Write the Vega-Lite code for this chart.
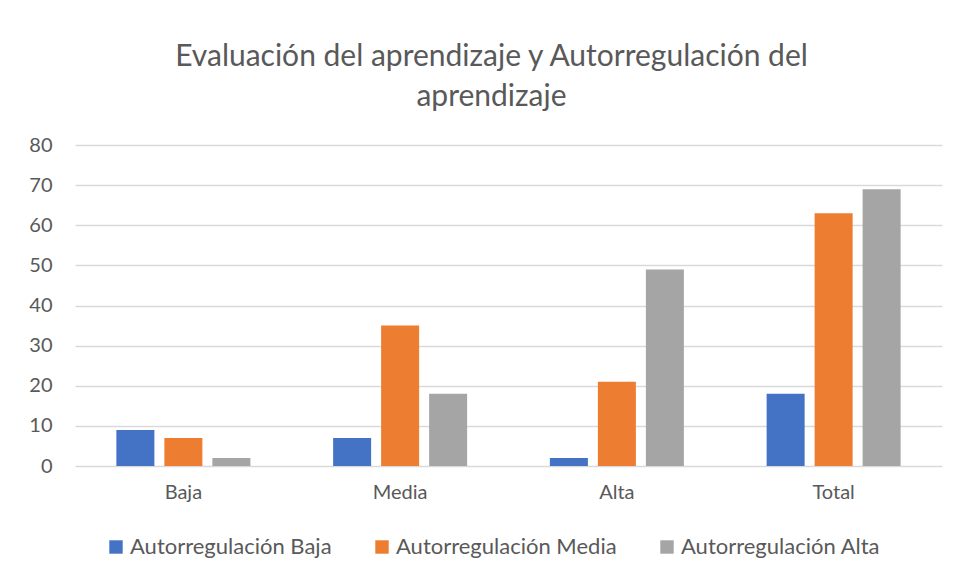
{
  "$schema": "https://vega.github.io/schema/vega-lite/v6.json",
  "width": 867,
  "height": 321,
  "autosize": "none",
  "padding": {"left": 75, "top": 145, "right": 14, "bottom": 115},
  "background": "white",
  "title": {
    "text": ["Evaluación del aprendizaje y Autorregulación del", "aprendizaje"],
    "font": "Lato",
    "fontSize": 30,
    "fontWeight": "normal",
    "color": "#595959",
    "lineHeight": 40,
    "anchor": "middle",
    "dx": -17,
    "offset": 23
  },
  "data": {
    "values": [
      {"grupo": "Baja", "serie": "Autorregulación Baja", "valor": 9},
      {"grupo": "Baja", "serie": "Autorregulación Media", "valor": 7},
      {"grupo": "Baja", "serie": "Autorregulación Alta", "valor": 2},
      {"grupo": "Media", "serie": "Autorregulación Baja", "valor": 7},
      {"grupo": "Media", "serie": "Autorregulación Media", "valor": 35},
      {"grupo": "Media", "serie": "Autorregulación Alta", "valor": 18},
      {"grupo": "Alta", "serie": "Autorregulación Baja", "valor": 2},
      {"grupo": "Alta", "serie": "Autorregulación Media", "valor": 21},
      {"grupo": "Alta", "serie": "Autorregulación Alta", "valor": 49},
      {"grupo": "Total", "serie": "Autorregulación Baja", "valor": 18},
      {"grupo": "Total", "serie": "Autorregulación Media", "valor": 63},
      {"grupo": "Total", "serie": "Autorregulación Alta", "valor": 69}
    ]
  },
  "mark": {"type": "bar"},
  "encoding": {
    "x": {
      "field": "grupo",
      "type": "nominal",
      "sort": ["Baja", "Media", "Alta", "Total"],
      "scale": {"paddingInner": 0, "paddingOuter": 0},
      "axis": {
        "title": null,
        "labelAngle": 0,
        "labelFont": "Lato",
        "labelFontSize": 20,
        "labelColor": "#595959",
        "labelPadding": 16,
        "domain": false,
        "ticks": false,
        "grid": false
      }
    },
    "xOffset": {
      "field": "serie",
      "type": "nominal",
      "sort": ["Autorregulación Baja", "Autorregulación Media", "Autorregulación Alta"],
      "scale": {"paddingInner": 0.208, "paddingOuter": 0.862}
    },
    "y": {
      "field": "valor",
      "type": "quantitative",
      "scale": {"domain": [0, 80]},
      "axis": {
        "title": null,
        "values": [0, 10, 20, 30, 40, 50, 60, 70, 80],
        "labelFont": "Lato",
        "labelFontSize": 20,
        "labelColor": "#595959",
        "labelPadding": 23,
        "domain": false,
        "ticks": false,
        "gridColor": "#D9D9D9",
        "gridWidth": 1.3
      }
    },
    "color": {
      "field": "serie",
      "type": "nominal",
      "sort": ["Autorregulación Baja", "Autorregulación Media", "Autorregulación Alta"],
      "scale": {"range": ["#4472C4", "#ED7D31", "#A5A5A5"]},
      "legend": {
        "title": null,
        "orient": "none",
        "direction": "horizontal",
        "legendX": 30,
        "legendY": 391,
        "symbolType": "square",
        "symbolSize": 180,
        "symbolStrokeWidth": 0,
        "symbolOpacity": 1,
        "labelFont": "Lato",
        "labelFontSize": 22,
        "labelColor": "#595959",
        "labelOffset": 3,
        "columnPadding": 39,
        "labelLimit": 300
      }
    }
  },
  "config": {"view": {"stroke": null}}
}
